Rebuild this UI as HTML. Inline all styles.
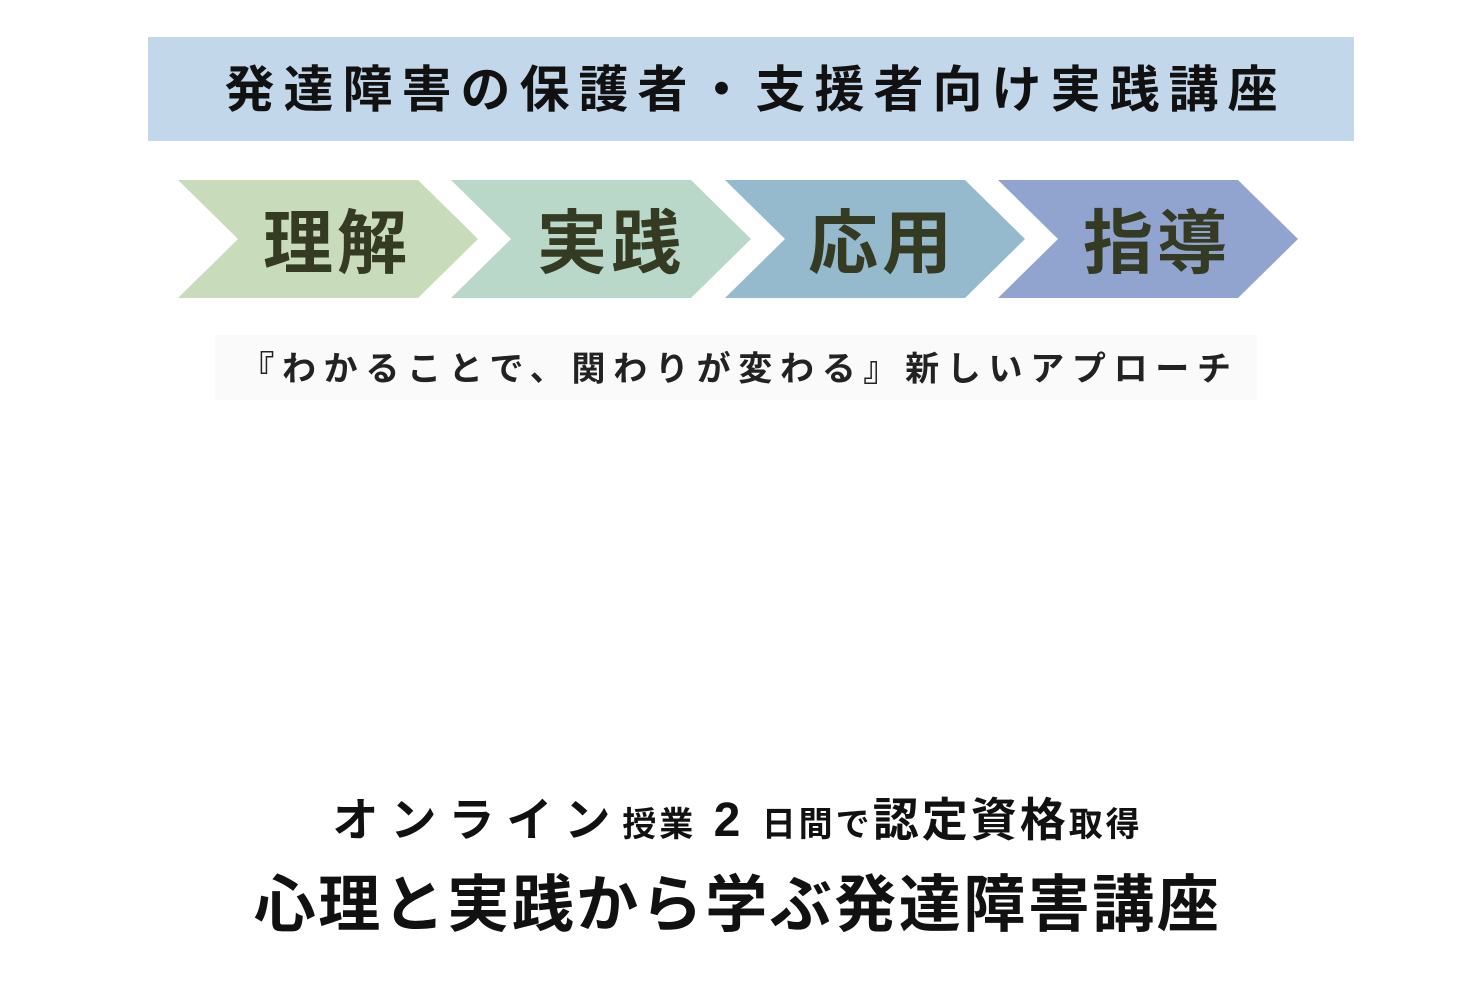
<!DOCTYPE html>
<html><head><meta charset="utf-8"><style>
html,body{margin:0;padding:0;background:#fff;width:1475px;height:981px;overflow:hidden;position:relative;font-family:"Liberation Sans","Noto Sans CJK JP",sans-serif;}
.abs{position:absolute;white-space:nowrap;}
.title{left:148px;top:37px;width:1206px;height:104px;background:#c2d7ea;}
.title div{position:absolute;left:0;right:0;top:47%;transform:translateY(-50%);text-align:center;font-size:50px;font-weight:bold;letter-spacing:9px;color:#111;padding-left:9px;}
.chev{position:absolute;font-size:70px;font-weight:bold;color:#343b22;letter-spacing:4px;transform:translate(-50%,-50%);white-space:nowrap;}
.sub{left:215px;top:335px;width:1042px;height:65px;background:#fafafa;}
.sub div{position:absolute;left:0;right:0;top:47%;transform:translateY(-50%);text-align:center;font-size:34px;font-weight:bold;letter-spacing:7.7px;padding-left:7px;color:#222;}
</style></head><body>
<div class="abs title"><div>発達障害の保護者・支援者向け実践講座</div></div>
<svg class="abs" style="left:0;top:0" width="1475" height="981">
<polygon points="178,180 418,180 478,239 418,298 178,298 238,239" fill="#c8dbbb"/>
<polygon points="451,180 691,180 751,239 691,298 451,298 511,239" fill="#b9d8c9"/>
<polygon points="725,180 965,180 1025,239 965,298 725,298 785,239" fill="#95bacd"/>
<polygon points="998,180 1238,180 1298,239 1238,298 998,298 1058,239" fill="#91a3cf"/>
</svg>
<div class="chev" style="left:337px;top:238px">理解</div>
<div class="chev" style="left:611px;top:238px">実践</div>
<div class="chev" style="left:882px;top:238px">応用</div>
<div class="chev" style="left:1157px;top:238px">指導</div>
<div class="abs sub"><div>『わかることで、関わりが変わる』新しいアプローチ</div></div>
<div class="abs" style="left:0;width:1475px;top:790px;text-align:center;font-weight:bold;color:#111;line-height:60px;">
<span style="font-size:46px;letter-spacing:12px">オンライン</span><span style="font-size:34px;letter-spacing:3px">授業</span><span style="font-size:48px;letter-spacing:4px"> 2 </span><span style="font-size:34px;letter-spacing:3px">日間で</span><span style="font-size:46px;letter-spacing:3px">認定資格</span><span style="font-size:34px;letter-spacing:3px">取得</span>
</div>
<div class="abs" style="left:0;width:1475px;top:866px;text-align:center;font-size:62px;font-weight:bold;color:#111;line-height:80px;"><span style="letter-spacing:2.5px">心理と実践から学ぶ発達障害講座</span></div>
</body></html>
